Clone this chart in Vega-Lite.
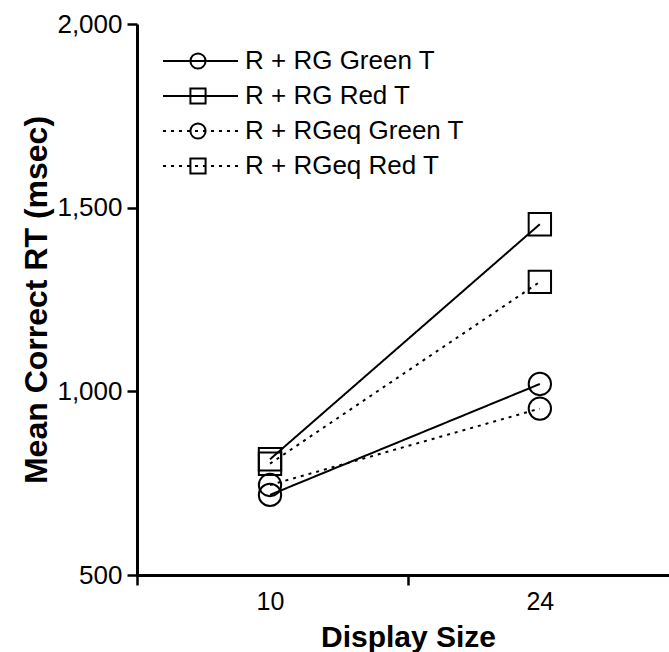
{
  "$schema": "https://vega.github.io/schema/vega-lite/v6.json",
  "width": 532,
  "height": 551,
  "autosize": {"type": "none"},
  "padding": {"left": 137, "top": 24, "right": 0, "bottom": 77},
  "background": "white",
  "config": {"view": {"stroke": null}, "font": "Liberation Sans"},
  "data": {
    "values": [
      {"display_size": 10, "rt": 718, "series": "R + RG Green T"},
      {"display_size": 24, "rt": 1020, "series": "R + RG Green T"},
      {"display_size": 10, "rt": 815, "series": "R + RG Red T"},
      {"display_size": 24, "rt": 1455, "series": "R + RG Red T"},
      {"display_size": 10, "rt": 745, "series": "R + RGeq Green T"},
      {"display_size": 24, "rt": 953, "series": "R + RGeq Green T"},
      {"display_size": 10, "rt": 803, "series": "R + RGeq Red T"},
      {"display_size": 24, "rt": 1298, "series": "R + RGeq Red T"}
    ]
  },
  "encoding": {
    "x": {
      "field": "display_size",
      "type": "quantitative",
      "scale": {"domain": [3.1, 30.7], "nice": false, "zero": false},
      "axis": {
        "values": [3.1, 10, 17.15, 24],
        "labelExpr": "datum.value == 10 || datum.value == 24 ? datum.label : ''",
        "tickOpacity": {"condition": {"test": "datum.value == 10 || datum.value == 24", "value": 0}, "value": 1},
        "grid": false,
        "domainColor": "black",
        "domainWidth": 3,
        "tickColor": "black",
        "tickWidth": 2.5,
        "tickSize": 10,
        "labelFont": "Liberation Sans",
        "labelFontSize": 25,
        "labelColor": "black",
        "labelPadding": 4,
        "labelFlush": false,
        "labelOverlap": false,
        "title": "Display Size",
        "titleFont": "Liberation Sans",
        "titleFontSize": 30,
        "titleFontWeight": "bold",
        "titleColor": "black",
        "titlePadding": 8,
        "titleX": 271
      }
    },
    "y": {
      "field": "rt",
      "type": "quantitative",
      "scale": {"domain": [500, 2000], "nice": false, "zero": false},
      "axis": {
        "values": [500, 1000, 1500, 2000],
        "format": ",.0f",
        "grid": false,
        "domainColor": "black",
        "domainWidth": 3,
        "tickColor": "black",
        "tickWidth": 2.5,
        "tickSize": 10,
        "labelFont": "Liberation Sans",
        "labelFontSize": 26,
        "labelColor": "black",
        "labelPadding": 5,
        "labelFlush": false,
        "labelOverlap": false,
        "title": "Mean Correct RT (msec)",
        "titleFont": "Liberation Sans",
        "titleFontSize": 32,
        "titleFontWeight": "bold",
        "titleColor": "black",
        "titlePadding": 3
      }
    }
  },
  "layer": [
    {
      "mark": {"type": "line", "color": "black", "strokeWidth": 2},
      "encoding": {
        "strokeDash": {
          "field": "series",
          "type": "nominal",
          "scale": {"range": [[1, 0], [1, 0], [3, 5], [3, 5]]},
          "legend": {
            "title": null,
            "orient": "none",
            "legendX": 0,
            "legendY": 24,
            "padding": 0,
            "symbolType": "M-3.26,0L3.26,0",
            "symbolSize": 529,
            "symbolStrokeWidth": 2,
            "symbolStrokeColor": "black",
            "symbolOffset": 50.5,
            "labelOffset": 34,
            "labelExpr": "''",
            "labelFont": "Liberation Sans",
            "labelFontSize": 26,
            "labelColor": "black",
            "labelLimit": 400,
            "rowPadding": 9
          }
        }
      }
    },
    {
      "mark": {"type": "point", "filled": false, "color": "black", "strokeWidth": 2, "size": 500, "opacity": 1},
      "encoding": {
        "shape": {
          "field": "series",
          "type": "nominal",
          "scale": {
            "domain": ["R + RG Green T", "R + RG Red T", "R + RGeq Green T", "R + RGeq Red T"],
            "range": ["circle", "square", "circle", "square"]
          },
          "legend": {
            "title": null,
            "orient": "none",
            "legendX": 0,
            "legendY": 24,
            "padding": 0,
            "symbolSize": 230,
            "symbolOffset": 48,
            "labelOffset": 34,
            "labelFont": "Liberation Sans",
            "labelFontSize": 26,
            "labelColor": "black",
            "labelLimit": 400,
            "rowPadding": 9,
            "symbolStrokeWidth": 2,
            "symbolStrokeColor": "black",
            "symbolFillColor": "transparent",
            "encode": {
              "symbols": {
                "size": {"value": 230},
                "opacity": {"value": 1}
              }
            }
          }
        }
      }
    }
  ]
}
